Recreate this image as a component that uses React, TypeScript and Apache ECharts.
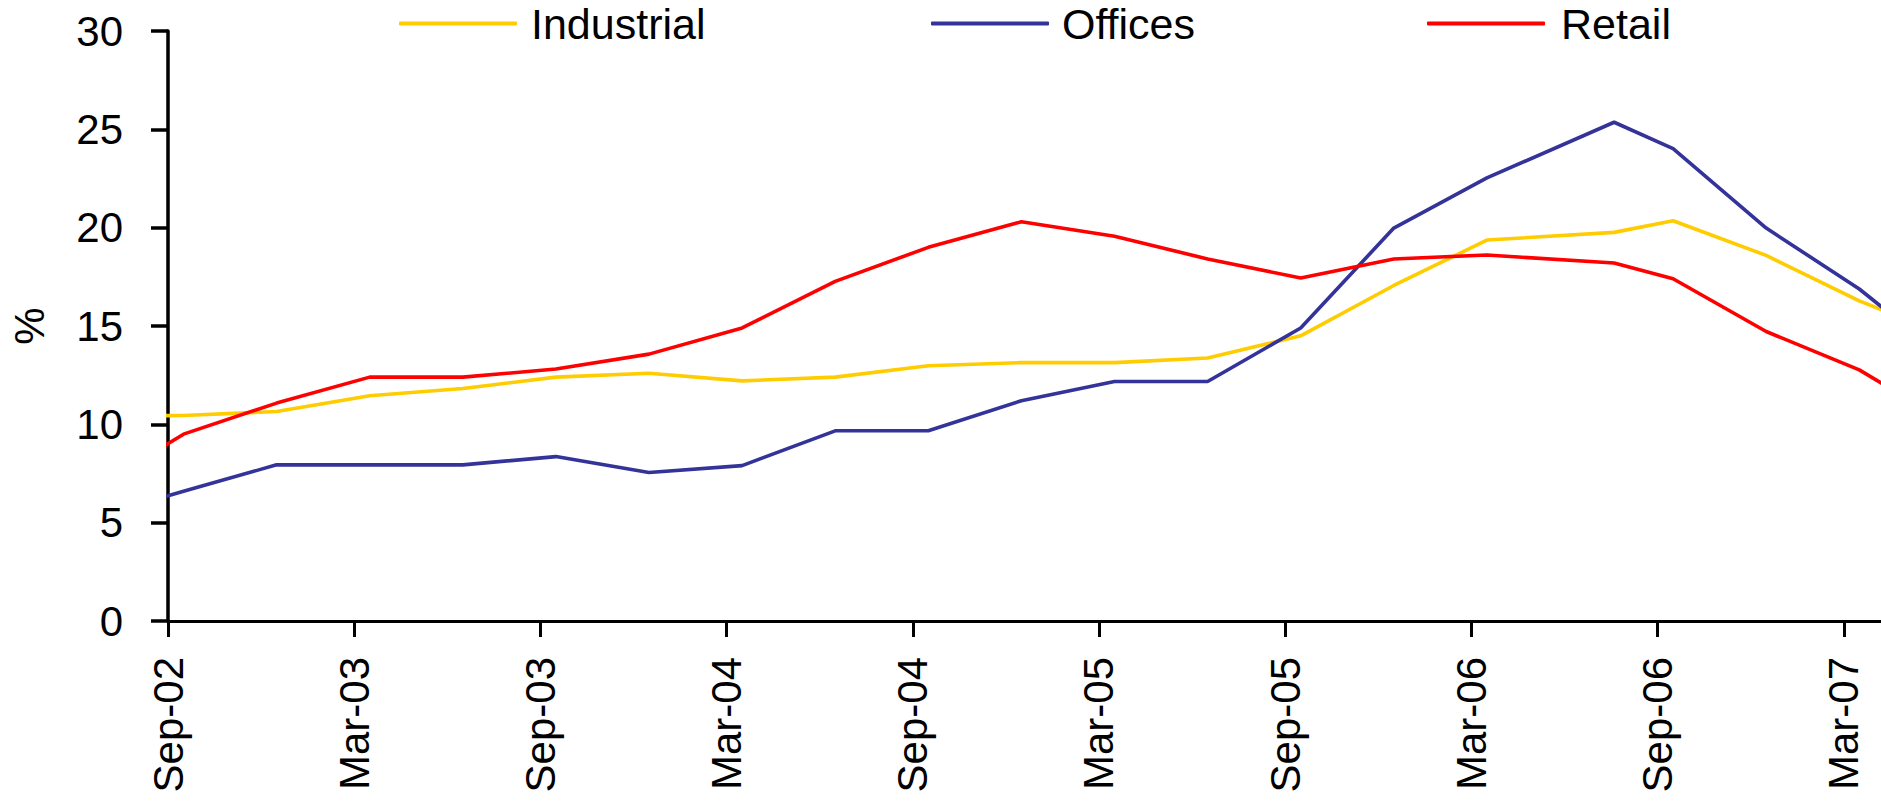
import React, { useEffect, useRef } from "react";
import * as echarts from "echarts";

// x positions in months after the Sep-02 tick
const pointMonths = [-2.5, 0.5, 3.5, 6.5, 9.5, 12.5, 15.5, 18.5, 21.5, 24.5, 27.5, 30.5, 33.5, 36.5, 39.5, 42.5, 46.6, 48.5, 51.5, 54.5, 57.5];

const industrial = [10.4, 10.45, 10.65, 11.45, 11.82, 12.4, 12.6, 12.21, 12.4, 12.98, 13.14, 13.14, 13.37, 14.5, 17.06, 19.37, 19.76, 20.35, 18.59, 16.28, 14.4];
const offices = [5.2, 6.6, 7.94, 7.94, 7.94, 8.36, 7.55, 7.9, 9.67, 9.67, 11.2, 12.18, 12.18, 14.9, 19.98, 22.53, 25.36, 24.02, 19.98, 16.88, 13.1];
const retail = [6.6, 9.5, 11.08, 12.4, 12.4, 12.81, 13.57, 14.9, 17.27, 19.0, 20.3, 19.56, 18.41, 17.44, 18.41, 18.61, 18.2, 17.4, 14.72, 12.77, 9.94];

const tickLabels = ["Sep-02", "Mar-03", "Sep-03", "Mar-04", "Sep-04", "Mar-05", "Sep-05", "Mar-06", "Sep-06", "Mar-07"];
const tickMonths = [0, 6, 12, 18, 24, 30, 36, 42, 48, 54];

const seriesNames = ["Industrial", "Offices", "Retail"];
const seriesColors = ["#FFCC00", "#333399", "#FF0000"];

const FONT = "'Liberation Sans', Arial, sans-serif";

export default function App() {
  const ref = useRef<HTMLDivElement>(null);

  useEffect(() => {
    document.body.style.margin = "0";
    if (!ref.current) return;
    const chart = echarts.init(ref.current, undefined, { renderer: "svg" });
    const values = [industrial, offices, retail];
    const legendLefts = [399, 931, 1427];
    const legendTextPad = [9, 8, 11];

    const option: any = {
      animation: false,
      backgroundColor: "#ffffff",
      textStyle: { fontFamily: FONT },
      grid: {
        left: 168,
        right: 0,
        top: 31,
        bottom: 189,
        containLabel: false,
        outerBoundsMode: "none",
      },
      legend: seriesNames.map((name, i) => ({
        data: [{ name, icon: "roundRect", itemStyle: { color: seriesColors[i] } }],
        left: legendLefts[i],
        top: 2,
        padding: 0,
        itemWidth: 118,
        itemHeight: 4,
        selectedMode: false,
        textStyle: {
          fontSize: 43,
          color: "#000",
          fontFamily: FONT,
          padding: [0, 0, 0, legendTextPad[i]],
        },
      })),
      xAxis: {
        type: "value",
        min: 0,
        max: 55.2,
        interval: 6,
        axisLine: { show: true, onZero: false, lineStyle: { color: "#000", width: 3 } },
        axisTick: {
          show: true,
          length: 16,
          customValues: tickMonths,
          lineStyle: { color: "#000", width: 3 },
        },
        axisLabel: {
          rotate: 90,
          margin: 36,
          fontSize: 42,
          color: "#000",
          fontFamily: FONT,
          customValues: tickMonths,
          formatter: (v: number) => tickLabels[tickMonths.indexOf(Math.round(v))] ?? "",
        },
        splitLine: { show: false },
      },
      yAxis: {
        type: "value",
        min: 0,
        max: 30,
        interval: 5,
        name: "%",
        nameLocation: "middle",
        nameRotate: 90,
        nameGap: 118,
        nameTextStyle: { fontSize: 42, color: "#000", fontFamily: FONT },
        axisLine: { show: true, lineStyle: { color: "#000", width: 3.5 } },
        axisTick: { show: true, length: 17, lineStyle: { color: "#000", width: 3.5 } },
        axisLabel: { margin: 45, fontSize: 42, color: "#000", fontFamily: FONT },
        splitLine: { show: false },
      },
      series: seriesNames.map((name, i) => ({
        name,
        type: "line",
        symbol: "none",
        clip: true,
        color: seriesColors[i],
        lineStyle: { color: seriesColors[i], width: 3.6 },
        data: pointMonths.map((m, j) => [m, values[i][j]]),
      })),
    };
    chart.setOption(option);
    return () => chart.dispose();
  }, []);

  return <div ref={ref} style={{ width: 1881, height: 810 }} />;
}
